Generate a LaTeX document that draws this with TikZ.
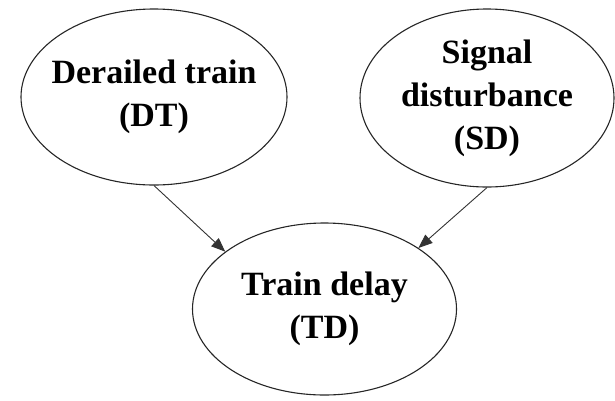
\documentclass[tikz,border=0pt]{standalone}
\usepackage{fontspec}
\setmainfont{Liberation Serif}
\usetikzlibrary{shapes.geometric,arrows.meta}
\begin{document}
\begin{tikzpicture}[x=1pt,y=-1pt,
  ev/.style={ellipse,draw=black!85,line width=1.1pt,inner sep=0pt},
  txt/.style={align=center,inner sep=0pt,font=\fontsize{34}{43}\selectfont\bfseries},
  conn/.style={draw=black!80,line width=0.9pt,-{Triangle[length=14pt,width=11pt]}}]
\useasboundingbox (0,0) rectangle (615,400);
\node[ev,minimum width=266pt,minimum height=176pt,label={[txt]center:Derailed train\\(DT)}] (DT) at (154,97) {};
\node[ev,minimum width=254pt,minimum height=178pt,label={[txt]center:Signal\\disturbance\\(SD)}] (SD) at (487,98) {};
\node[ev,minimum width=264pt,minimum height=172pt,label={[txt]center:Train delay\\(TD)}] (TD) at (324.5,309) {};
\draw[conn] (DT.south) -- (TD.150);
\draw[conn] (SD.south) -- (TD.33);
\end{tikzpicture}
\end{document}
